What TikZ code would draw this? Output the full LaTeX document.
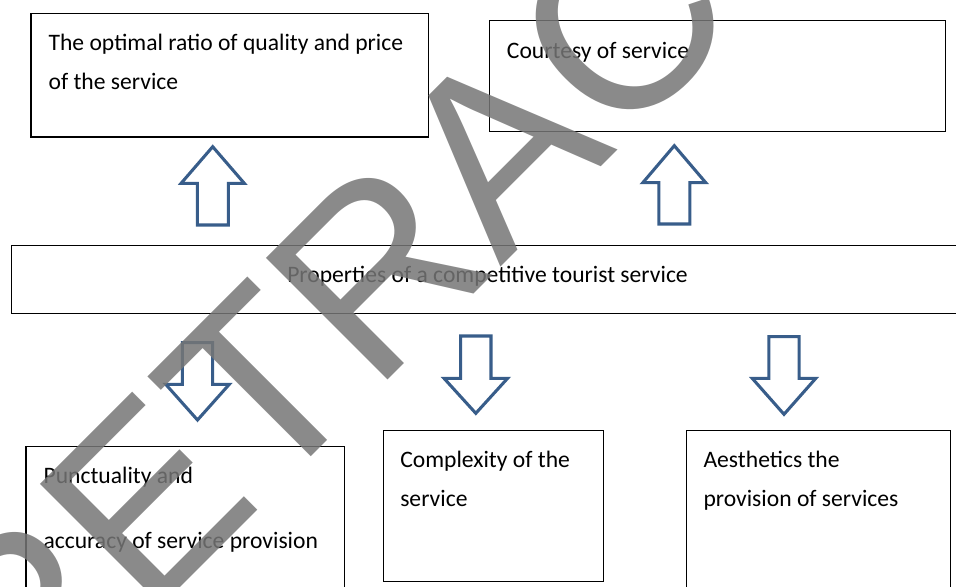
\documentclass[tikz,border=0pt]{standalone}
\usepackage{fontspec}
\setmainfont{Carlito}
\newfontfamily\stampfont{Liberation Sans}
\usepackage{tikz}

\definecolor{arrowblue}{RGB}{56,93,138}
\definecolor{stampgray}{RGB}{118,118,118}

\tikzset{
  box/.style={draw=black, line width=1pt},
  boxtext/.style={anchor=base west, inner sep=0pt, font=\fontsize{17.7}{21}\selectfont},
  blockarrow/.style={draw=arrowblue, line width=2.3pt, line join=miter, fill=white},
}

\begin{document}
\begin{tikzpicture}[x=0.75pt,y=0.75pt,yscale=-1]
\useasboundingbox (0,0) rectangle (956,586);
\clip (0,0) rectangle (956,586);

%Shape: Rectangle [top left]
\draw[box] (31,13.3) rectangle (428.7,137);
%Shape: Rectangle [top right]
\draw[box] (489.3,20.7) rectangle (945.3,131.3);
%Shape: Rectangle [middle, runs off to the right]
\draw[box] (11.7,245.7) rectangle (970,313.5);
%Shape: Rectangle [bottom left]
\draw[box] (26,446.7) rectangle (344.3,600);
%Shape: Rectangle [bottom middle]
\draw[box] (383.3,430.7) rectangle (603.3,581.7);
%Shape: Rectangle [bottom right]
\draw[box] (686.7,430.7) rectangle (950.3,600);

%Shape: Up Arrow
\draw[blockarrow] (212.7,146.7) -- (244.3,183.3) -- (228.3,183.3) -- (228.3,225) -- (197.3,225) -- (197.3,183.3) -- (181.1,183.3) -- cycle;
%Shape: Up Arrow
\draw[blockarrow] (674.3,145.7) -- (705.8,182.7) -- (689.8,182.7) -- (689.8,224) -- (658.8,224) -- (658.8,182.7) -- (642.8,182.7) -- cycle;

%Shape: Down Arrow
\draw[blockarrow] (182.3,342.7) -- (212.7,342.7) -- (212.7,384.3) -- (229.3,384.3) -- (197.5,420) -- (165.7,384.3) -- (182.3,384.3) -- cycle;
%Shape: Down Arrow
\draw[blockarrow] (460.6,336) -- (491,336) -- (491,378.3) -- (507.6,378.3) -- (475.8,413.3) -- (444,378.3) -- (460.6,378.3) -- cycle;
%Shape: Down Arrow
\draw[blockarrow] (768.8,336.7) -- (799.2,336.7) -- (799.2,378.3) -- (815.8,378.3) -- (784,414.3) -- (752.2,378.3) -- (768.8,378.3) -- cycle;

% Text Node
\node[boxtext] (ratio1) at (48.3,50) {The optimal ratio of quality and price};
% Text Node
\node[boxtext] (ratio2) at (48.3,89.3) {of the service};
% Text Node
\node[boxtext] (courtesy) at (506.7,58.3) {Courtesy of service};
% Text Node
\node[boxtext, anchor=base] (props) at (487.5,282.7) {Properties of a competitive tourist service};
% Text Node
\node[boxtext] (punct1) at (43.3,483.3) {Punctuality and};
% Text Node
\node[boxtext] (punct2) at (43.3,548.3) {accuracy of service provision};
% Text Node
\node[boxtext] (complex1) at (400,467.7) {Complexity of the};
% Text Node
\node[boxtext] (complex2) at (400,506.7) {service};
% Text Node
\node[boxtext] (aesth1) at (703.3,467.7) {Aesthetics the};
% Text Node
\node[boxtext] (aesth2) at (703.3,506.7) {provision of services};

% Stamp across the page
\node[anchor=base west, inner sep=0pt, rotate=45, text=stampgray, text opacity=0.85,
      font=\stampfont\fontsize{187.5}{187.5}\selectfont] (stamp) at (19.5,748.5) {RETRACTED};

\end{tikzpicture}
\end{document}
